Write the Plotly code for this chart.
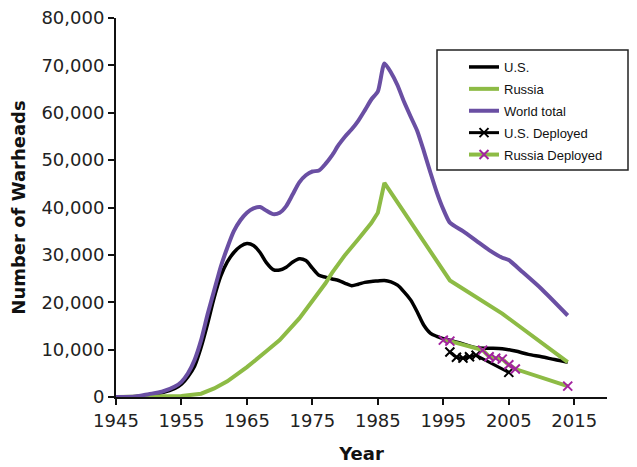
import plotly.graph_objects as go

us_years = [1945,1948,1950,1952,1954,1955,1956,1957,1958,1959,1960,1961,1962,1963,1964,1965,1966,1967,1968,1969,1970,1971,1972,1973,1974,1975,1976,1977,1978,1979,1980,1981,1982,1983,1984,1985,1986,1987,1988,1989,1990,1991,1992,1993,1994,1995,1996,1998,2000,2002,2004,2006,2008,2010,2012,2014]
us_vals = [0,100,400,900,1800,2700,4300,6500,10500,15500,21000,25500,28500,30500,31800,32400,32000,30500,28300,26900,26800,27400,28500,29200,28800,27200,25700,25300,24900,24600,24000,23500,23800,24200,24400,24500,24600,24300,23600,22200,20500,18000,15200,13500,12800,12300,12000,11200,10400,10300,10200,9700,9000,8500,7900,7350]

ru_years = [1945,1951,1955,1958,1959,1960,1962,1965,1968,1970,1973,1975,1977,1978,1980,1982,1984,1985,1986,1996,2004,2014]
ru_vals = [0,0,200,700,1300,1800,3300,6300,9700,12000,16600,20200,24000,26200,30000,33300,36700,38900,45200,24600,17600,7350]

world_years = [1945,1948,1950,1952,1954,1955,1956,1957,1958,1959,1960,1961,1962,1963,1964,1965,1966,1967,1968,1969,1970,1971,1972,1973,1974,1975,1976,1977,1978,1979,1980,1981,1982,1983,1984,1985,1986,1987,1988,1989,1990,1991,1992,1993,1994,1995,1996,1998,2000,2002,2004,2005,2007,2010,2014]
world_vals = [0,100,600,1100,2200,3200,5000,7800,12000,17500,22500,27500,31500,35000,37300,38900,39800,40100,39300,38600,38900,40300,42800,45300,46800,47600,47800,49200,51000,53200,55000,56500,58300,60500,62800,64500,70400,68500,65800,62300,59200,56200,52000,47500,43200,39600,36800,35000,33000,31000,29400,28900,26500,22800,17200]

us_dep_years = [1996,1997,1998,1999,2000,2005]
us_dep_vals = [9500,8400,8200,8500,8800,5200]

ru_dep_years = [1995,1996,2001,2002,2003,2004,2005,2006,2014]
ru_dep_vals = [12000,11800,9900,8500,8200,8000,6800,5900,2300]

x_ticks = [1945,1955,1965,1975,1985,1995,2005,2015]
y_ticks = [0,10000,20000,30000,40000,50000,60000,70000,80000]
y_tick_text = ["0","10,000","20,000","30,000","40,000","50,000","60,000","70,000","80,000"]

BLACK = "#000000"
GREEN = "#8DBB45"
PURPLE = "#6A4FA3"
MAGENTA = "#A3239F"

fig = go.Figure()
fig.add_trace(go.Scatter(x=us_years, y=us_vals, name="U.S.", mode="lines", legendgroup="a",
                         line=dict(color=BLACK, width=3.5, shape="spline", smoothing=0.8)))
fig.add_trace(go.Scatter(x=ru_years, y=ru_vals, name="Russia", mode="lines", legendgroup="b",
                         line=dict(color=GREEN, width=4)))
fig.add_trace(go.Scatter(x=world_years, y=world_vals, name="World total", mode="lines", legendgroup="c",
                         line=dict(color=PURPLE, width=4, shape="spline", smoothing=0.6)))
fig.add_trace(go.Scatter(x=us_dep_years, y=us_dep_vals, name="U.S. Deployed", mode="lines+markers", legendgroup="d",
                         line=dict(color=BLACK, width=3),
                         marker=dict(symbol="x-thin", size=9, line=dict(color=BLACK, width=2))))
fig.add_trace(go.Scatter(x=ru_dep_years, y=ru_dep_vals, name="Russia Deployed", mode="lines+markers", legendgroup="e",
                         line=dict(color=GREEN, width=4),
                         marker=dict(symbol="x-thin", size=9, line=dict(color=MAGENTA, width=2))))

# page offset (body margin) compensation
OFF = 8
W, H = 637, 467
PL, PR, PT, PB = 116, 607, 18, 397  # target plot area in window pixels
L = PL - OFF
T = PT - OFF
R = W - (PR - OFF)
B = H - (PB - OFF)
pw, ph = PR - PL, PB - PT

def px_x(p):
    return (p - PL) / pw

def px_y(p):
    return (PB - p) / ph

fig.add_shape(type="rect", xref="paper", yref="paper",
              x0=px_x(437), x1=px_x(628), y0=px_y(170), y1=px_y(50),
              line=dict(color="#222222", width=1.5), fillcolor="white", layer="below")

fig.update_layout(
    width=W, height=H,
    margin=dict(l=L, r=R, t=T, b=B, autoexpand=False),
    paper_bgcolor="white", plot_bgcolor="white",
    font=dict(family="DejaVu Sans", color="#222222"),
    showlegend=True,
    legend=dict(x=px_x(464), y=px_y(52), xanchor="left", yanchor="top",
                bgcolor="rgba(0,0,0,0)", borderwidth=0, traceorder="grouped",
                font=dict(family="Liberation Sans, Arial", size=13, color="#111111"),
                itemwidth=30, tracegroupgap=2),
    xaxis=dict(range=[1945, 2020], tickmode="array", tickvals=x_ticks, automargin=False,
               ticklabeloverflow="allow",
               showgrid=False, zeroline=False, showline=True, linecolor="#111111", linewidth=2,
               ticks="outside", ticklen=6, tickwidth=2, tickcolor="#111111",
               tickfont=dict(family="DejaVu Sans", size=18, color="#222222"),
               title=dict(text="<b>Year</b>", font=dict(family="DejaVu Sans", size=18, color="#111111"), standoff=18)),
    yaxis=dict(range=[0, 80000], tickmode="array", tickvals=y_ticks, ticktext=y_tick_text, automargin=False,
               ticklabeloverflow="allow",
               showgrid=False, zeroline=False, showline=True, linecolor="#111111", linewidth=2,
               ticks="outside", ticklen=6, tickwidth=2, tickcolor="#111111",
               tickfont=dict(family="DejaVu Sans", size=18, color="#222222"),
               title=dict(text="<b>Number of Warheads</b>", font=dict(family="DejaVu Sans", size=18, color="#111111"), standoff=14)),
)

fig.write_html("out.html")
